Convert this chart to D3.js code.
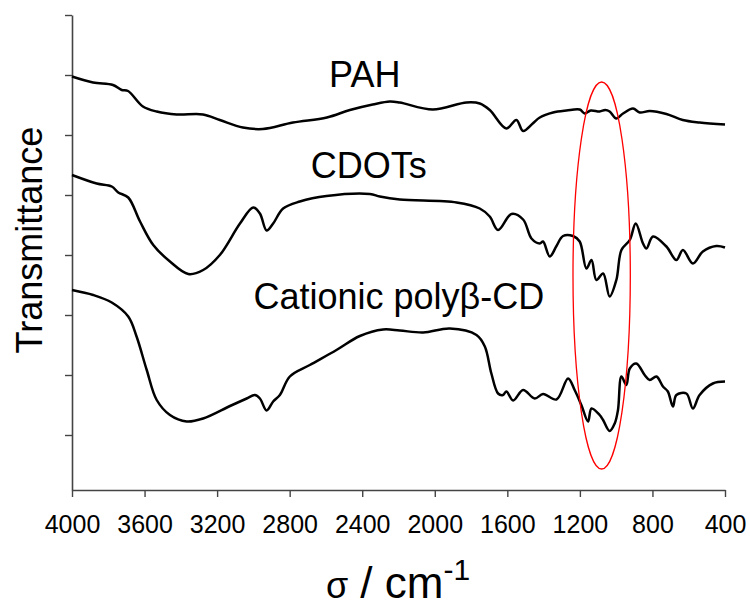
<!DOCTYPE html>
<html>
<head>
<meta charset="utf-8">
<script src="https://cdn.jsdelivr.net/npm/d3@7"></script>
<style>
  html, body { margin: 0; padding: 0; background: #fff; }
  svg { display: block; font-family: Arial, "Liberation Sans", sans-serif; }
</style>
</head>
<body>
<svg id="chart" width="750" height="606"></svg>
<script>
// ---- data (wavenumber in cm-1, transmittance in arbitrary offset units) ----
const xTicks = [4000, 3600, 3200, 2800, 2400, 2000, 1600, 1200, 800, 400];
const yTicks = [95, 83, 71, 59, 47, 35, 23, 11];
const seriesNames = ["PAH", "CDOTs", "Cationic polyβ-CD"];

const pahWn = [4000, 3884, 3774, 3726, 3691, 3609, 3533, 3423, 3278, 3185, 3058, 2948, 2782, 2595, 2468, 2342, 2248, 2193, 2011, 1825, 1752, 1697, 1605, 1550, 1513, 1460, 1421, 1348, 1274, 1201, 1173, 1140, 1091, 1060, 1036, 999, 962, 907, 870, 815, 723, 633, 540, 400];
const pahT  = [82.7, 81.5, 81, 80, 79.8, 76.7, 75.7, 75.1, 75.1, 74, 72.5, 72.2, 73.5, 74.5, 76, 77.1, 77.7, 77.5, 76.1, 77.5, 77.3, 76, 72.3, 74, 71.8, 73.3, 74.5, 75.5, 75.9, 76.1, 75.3, 75.9, 75.7, 76.0, 75.7, 74.3, 75.3, 76.3, 75.5, 75.8, 75.2, 74, 73.5, 73.1];

const cdWn = [4000, 3864, 3781, 3745, 3690, 3625, 3552, 3460, 3359, 3277, 3185, 3074, 3001, 2964, 2927, 2891, 2836, 2744, 2597, 2358, 2303, 2193, 1880, 1752, 1697, 1651, 1577, 1513, 1467, 1421, 1403, 1366, 1329, 1293, 1238, 1201, 1164, 1136, 1109, 1072, 1036, 999, 971, 925, 892, 852, 833, 797, 723, 668, 632, 577, 522, 448, 400];
const cdT  = [63, 61.3, 60.7, 59.5, 58.5, 53.7, 49, 45.7, 43.2, 44, 47, 53.3, 56.5, 55.3, 51.9, 53.3, 56.3, 57.7, 58.8, 59.2, 58.7, 58.1, 57.5, 56.3, 54.7, 52, 55.2, 54.1, 50.3, 49.3, 49.7, 46.7, 48.8, 50.8, 50.8, 49.7, 44.3, 46, 42, 43.3, 38.7, 42, 48, 50, 53.3, 49.3, 48.3, 50.7, 48.7, 46, 48, 45.3, 47.7, 48.8, 48.5];

const caWn = [4000, 3883, 3781, 3690, 3644, 3588, 3533, 3460, 3368, 3277, 3129, 3037, 2992, 2964, 2927, 2891, 2854, 2799, 2689, 2542, 2413, 2285, 2193, 2064, 1917, 1770, 1724, 1688, 1651, 1624, 1605, 1568, 1513, 1449, 1403, 1329, 1265, 1229, 1192, 1155, 1136, 1091, 1072, 1036, 1008, 990, 971, 944, 925, 889, 843, 815, 778, 742, 715, 687, 668, 613, 577, 540, 467, 400];
const caT  = [40, 39, 37.5, 34.7, 30.7, 24, 18, 15, 13.7, 14.3, 16.8, 18.3, 19, 18.3, 15.9, 17.7, 19, 22.7, 25, 28, 30.8, 32.1, 31.9, 31.5, 32.3, 31, 28.7, 23.3, 19.3, 19, 19.7, 17.9, 20, 18.3, 19.2, 18.1, 22.3, 20, 17, 13.7, 16.3, 15, 14, 11.8, 13.3, 16, 22.7, 21, 24.3, 25.3, 23, 22, 22.7, 20.7, 19.7, 16.7, 19, 19.3, 16.3, 19, 21.3, 21.7];

// label anchor positions (in data units)
const labelWn = [2386, 2364, 2198];
const labelT  = [80.6, 62.4, 36.2];

// highlight ellipse (data units)
const ellipseCenter = [1080, 42.9];
const ellipseRadius = [158, 38.7];

// ---- drawing ----
const svg = d3.select("#chart");
const x = d3.scaleLinear().domain([4000, 400]).range([72, 725]);
const y = d3.scaleLinear().domain([0, 95]).range([490, 15]);
const axisColor = "#444";

// y axis
const yAxis = svg.append("g").attr("transform", "translate(72,0)")
  .call(d3.axisLeft(y).tickValues(yTicks).tickSize(7).tickSizeOuter(0).tickFormat(""));
yAxis.select(".domain").attr("stroke", axisColor).attr("stroke-width", 1.6);
yAxis.selectAll(".tick line").attr("stroke", axisColor).attr("stroke-width", 1.4);

// x axis
const xAxis = svg.append("g").attr("transform", "translate(0,490)")
  .call(d3.axisBottom(x).tickValues(xTicks).tickSize(7).tickSizeOuter(0).tickPadding(18).tickFormat(d3.format("d")));
xAxis.select(".domain").attr("stroke", axisColor).attr("stroke-width", 1.6);
xAxis.selectAll(".tick line").attr("stroke", axisColor).attr("stroke-width", 1.4);
xAxis.selectAll(".tick text").attr("font-size", 25).attr("fill", "#000")
  .attr("font-family", "Arial, 'Liberation Sans', sans-serif");

// curves
const line = d3.line().x(d => x(d[0])).y(d => y(d[1])).curve(d3.curveCatmullRom.alpha(0.5));
const series = [
  d3.zip(pahWn, pahT),
  d3.zip(cdWn, cdT),
  d3.zip(caWn, caT)
];
svg.append("g").selectAll("path").data(series).join("path")
  .attr("d", line)
  .attr("fill", "none")
  .attr("stroke", "#000")
  .attr("stroke-width", 2.5)
  .attr("stroke-linejoin", "round");

// labels
svg.append("g").selectAll("text").data(seriesNames).join("text")
  .attr("x", (d, i) => x(labelWn[i]))
  .attr("y", (d, i) => y(labelT[i]))
  .attr("text-anchor", "middle")
  .attr("font-size", 36)
  .attr("fill", "#000")
  .text(d => d);

// ellipse
svg.append("ellipse")
  .attr("cx", x(ellipseCenter[0]))
  .attr("cy", y(ellipseCenter[1]))
  .attr("rx", Math.abs(x(ellipseCenter[0] + ellipseRadius[0]) - x(ellipseCenter[0])))
  .attr("ry", Math.abs(y(ellipseCenter[1] + ellipseRadius[1]) - y(ellipseCenter[1])))
  .attr("fill", "none")
  .attr("stroke", "#ff0000")
  .attr("stroke-width", 1.3);

// y title
svg.append("text")
  .attr("transform", "translate(42,240) rotate(-90)")
  .attr("text-anchor", "middle")
  .attr("font-size", 36)
  .attr("fill", "#000")
  .text("Transmittance");

// x title
const xt = svg.append("text")
  .attr("x", 398).attr("y", 598)
  .attr("text-anchor", "middle")
  .attr("fill", "#000");
xt.append("tspan").attr("font-size", 36).text("σ");
xt.append("tspan").attr("font-size", 44).text(" / cm");
xt.append("tspan").attr("font-size", 30).attr("dy", -18).text("-1");
</script>
</body>
</html>
